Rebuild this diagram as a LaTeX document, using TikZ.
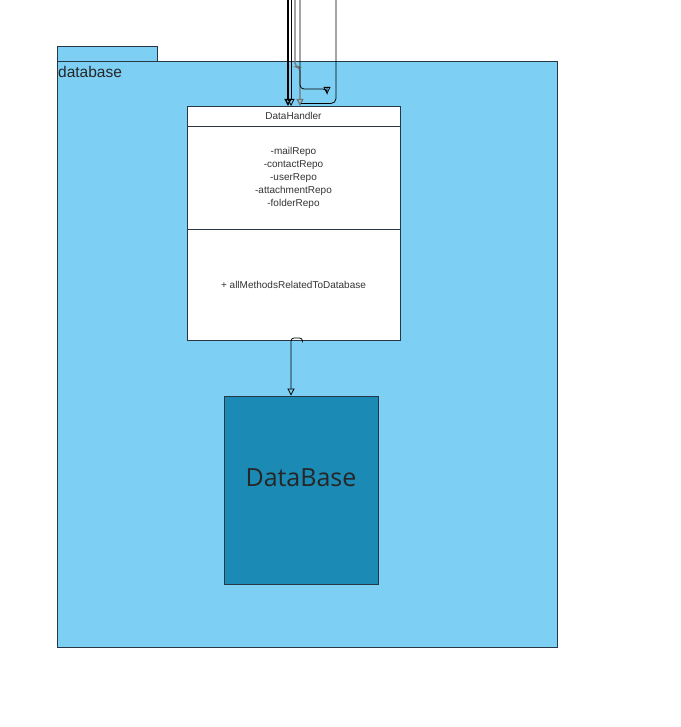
\documentclass[tikz,border=0pt]{standalone}
\usepackage{fontspec}
\setmainfont{Liberation Sans}
\newfontfamily\dbfont{Open Sans}
\usepackage{tikz}
\usetikzlibrary{arrows.meta, positioning}
\definecolor{pkgblue}{RGB}{126,207,244}
\definecolor{dbblue}{RGB}{27,138,181}
\definecolor{edgedark}{RGB}{40,55,70}
\definecolor{textgray}{RGB}{51,51,51}
\tikzset{
  pkg/.style={rectangle, draw=edgedark, fill=pkgblue, line width=0.8pt},
  classpart/.style={rectangle, draw=edgedark, fill=white, line width=0.8pt,
    minimum width=213pt, outer sep=0pt, align=center, text=textgray,
    font=\fontsize{10}{13}\selectfont},
  dbbox/.style={rectangle, draw=edgedark, fill=dbblue, line width=0.8pt,
    minimum width=154pt, minimum height=188pt, font=\dbfont\fontsize{25}{28}\selectfont,
    text=black!85, text depth=24pt},
  arrow/.style={-{Triangle[open, length=7pt, width=7pt]}, line width=0.8pt, color=black},
}

\begin{document}
\begin{tikzpicture}[x=1pt, y=-1pt]

  \useasboundingbox[fill=white] (0,0) rectangle (680,727);

  %% Package
  \draw[pkg] (57,46) rectangle (157,61);
  \draw[pkg] (57,61) rectangle (557,647);
  \node[anchor=west, font=\fontsize{15.5}{17}\selectfont, text=black!85, inner sep=0pt]
    (pkglabel) at (58,72) {database};

  %% DataHandler class
  \node[classpart, minimum height=20pt] (header) at (293.5,116) {DataHandler};
  \node[classpart, minimum height=103pt, below=0pt of header] (attrs)
    {-mailRepo\\-contactRepo\\-userRepo\\-attachmentRepo\\-folderRepo};
  \node[classpart, minimum height=111pt, below=0pt of attrs] (methods)
    {+ allMethodsRelatedToDatabase};

  %% DataBase
  \node[dbbox] (database) at (301,490) {DataBase};

  %% Incoming edges (cut at the top)
  \coordinate (inA) at (288,0);
  \coordinate (inB) at (291,0);
  \coordinate (inC) at (295,0);
  \coordinate (inD) at (300,0);
  \coordinate (inE) at (336,0);
  \coordinate (loopend) at (327,94);

  \draw[arrow, line width=1.3pt] (inA) -- (inA |- header.north);
  \draw[arrow] (inB) -- (inB |- header.north);
  \draw[arrow, black!55, line width=1.2pt, rounded corners=4pt] (inC) -- (295,67) -- (300,67)
    -- (300,0 |- header.north);
  \draw[arrow, rounded corners=4pt] (inD) |- (327,89) -- (loopend);
  \draw[line width=0.8pt, rounded corners=5pt] (inE) |- (301,103.5);

  \draw[arrow, rounded corners=3pt] ([xshift=9pt]methods.south) -- ++(0,-2)
    -| ([xshift=-10pt]database.north);

\end{tikzpicture}
\end{document}
